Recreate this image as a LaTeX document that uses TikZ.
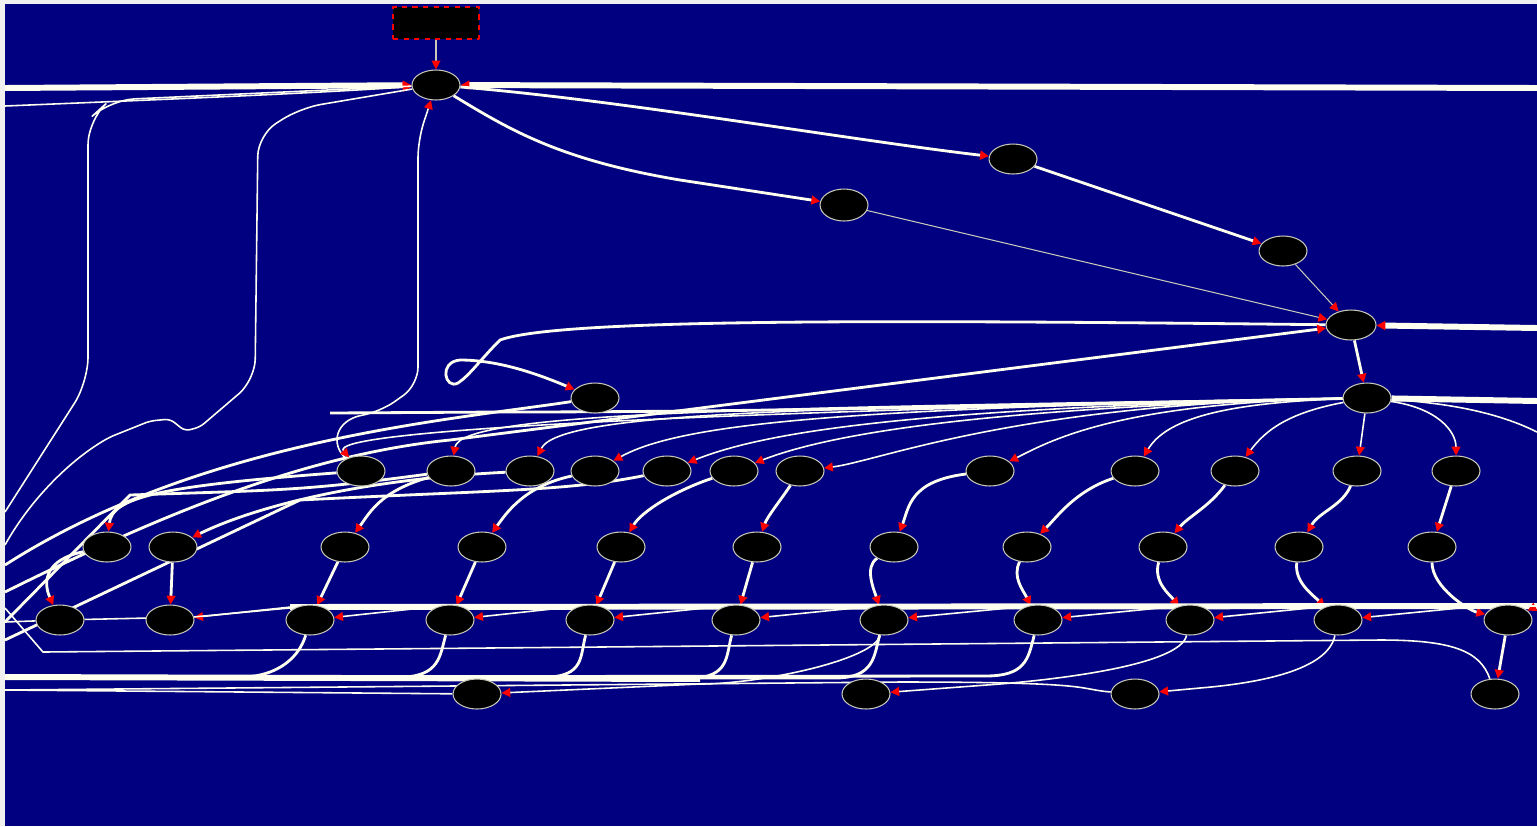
\documentclass[tikz,border=0pt]{standalone}
\usetikzlibrary{arrows.meta,shapes.geometric,backgrounds}

\definecolor{navy}{RGB}{0,0,128}
\definecolor{ivory}{RGB}{255,255,240}
\definecolor{frame}{RGB}{240,240,240}
\definecolor{rim}{RGB}{200,200,185}

\tikzset{
  >={Triangle[red,length=5pt,width=5pt]},
  blob/.style={ellipse, draw=rim, fill=black, line width=0.6pt,
    inner sep=0pt, minimum width=0.96cm, minimum height=0.6cm},
  srcbox/.style={rectangle, draw=red, dashed, fill=black, line width=0.6pt,
    minimum width=1.72cm, minimum height=0.64cm},
  hair/.style={draw=rim, line width=0.6pt},
  wire/.style={draw=ivory, line width=0.9pt},
  heavy/.style={draw=ivory, line width=1.6pt},
  bus/.style={draw=ivory, line width=3.4pt}
}

\begin{document}
\begin{tikzpicture}[x=0.02cm, y=-0.02cm, line join=round]
\useasboundingbox (0,0) rectangle (1537,826);
\begin{scope}[on background layer]
\fill[frame] (0,0) rectangle (1537,826);
\fill[navy] (5,4) rectangle (1537,826);
\end{scope}

% loose ends at the border
\coordinate (inW1) at (5,88);
\coordinate (inW2) at (5,106);
\coordinate (outW1) at (5,512);
\coordinate (outW2) at (5,545);
\coordinate (inW3) at (5,592);
\coordinate (outW4) at (5,565);
\coordinate (outW5) at (5,622);
\coordinate (outW6) at (5,608);
\coordinate (outW7) at (5,640);
\coordinate (outW8) at (5,677);
\coordinate (outW9) at (5,690);
\coordinate (inE1) at (1537,88);
\coordinate (inE2) at (1537,328);
\coordinate (outE3) at (1537,401);
\coordinate (outE4) at (1537,432);
\coordinate (inE5) at (1537,606);

% nodes
\node[srcbox] (src) at (436,23) {};
\node[blob] (r0) at (436,85) {};
\node[blob] (a1) at (1013,159) {};
\node[blob, minimum height=0.64cm] (b1) at (844,205) {};
\node[blob] (c1) at (1283,251) {};
\node[blob, minimum width=1cm] (d1) at (1351,325) {};
\node[blob] (e1) at (1367,398) {};
\node[blob] (f1) at (595,398) {};

\node[blob] (u1) at (361,471) {};
\node[blob] (u2) at (451,471) {};
\node[blob] (u3) at (530,471) {};
\node[blob] (u4) at (595,471) {};
\node[blob] (u5) at (667,471) {};
\node[blob] (u6) at (734,471) {};
\node[blob] (u7) at (800,471) {};
\node[blob] (u8) at (990,471) {};
\node[blob] (u9) at (1135,471) {};
\node[blob] (u10) at (1235,471) {};
\node[blob] (u11) at (1357,471) {};
\node[blob] (u12) at (1456,471) {};

\node[blob] (v1) at (107,547) {};
\node[blob] (v2) at (173,547) {};
\node[blob] (v3) at (345,547) {};
\node[blob] (v4) at (482,547) {};
\node[blob] (v5) at (621,547) {};
\node[blob] (v6) at (757,547) {};
\node[blob] (v7) at (894,547) {};
\node[blob] (v8) at (1027,547) {};
\node[blob] (v9) at (1163,547) {};
\node[blob] (v10) at (1299,547) {};
\node[blob] (v11) at (1432,547) {};

\node[blob] (w1) at (60,620) {};
\node[blob] (w2) at (170,620) {};
\node[blob] (w3) at (310,620) {};
\node[blob] (w4) at (450,620) {};
\node[blob] (w5) at (590,620) {};
\node[blob] (w6) at (736,620) {};
\node[blob] (w7) at (884,620) {};
\node[blob] (w8) at (1038,620) {};
\node[blob] (w9) at (1190,620) {};
\node[blob] (w10) at (1338,620) {};
\node[blob] (w11) at (1508,620) {};

\node[blob] (z1) at (477,694) {};
\node[blob] (z2) at (866,694) {};
\node[blob] (z3) at (1135,694) {};
\node[blob] (z4) at (1495,694) {};

% edges, drawn behind the nodes
\begin{scope}[on background layer]
% top part
\draw[hair,->] (src) -- (r0);
\draw[bus,->] (inW1) -- (r0);
\draw[wire,->] (inW2) .. controls (150,100) and (300,94) .. (r0);
\draw[bus,->] (inE1) -- (r0);
\draw[wire,rounded corners=14] (r0) -- (110,100) -- (88,120) -- (88,382) -- (outW1);
\draw[wire,rounded corners=12] (r0) -- (300,108) -- (258,135) -- (255,380)
  [rounded corners=3] -- (200,427) -- (185,431) -- (170,419) -- (150,421) -- (110,437)
  .. controls (70,460) and (30,500) .. (outW2);
\draw[wire,->,rounded corners=10] (u1) .. controls (330,445) and (335,420) .. (380,412)
  -- (418,385) -- (418,140) -- (r0);
\draw[heavy,->] (r0) .. controls (620,100) and (850,140) .. (a1);
\draw[heavy,->] (r0) .. controls (510,130) and (560,160) .. (680,180) -- (b1);
\draw[heavy,->] (a1) -- (c1);
\draw[hair,->] (b1) -- (d1);
\draw[hair,->] (c1) -- (d1);
\draw[heavy,->] (d1) -- (e1);
\draw[bus,->] (inE2) -- (d1);
\draw[heavy,->] (d1) .. controls (900,320) and (560,318) .. (500,340)
  .. controls (480,360) and (470,375) .. (458,383)
  .. controls (445,390) and (438,362) .. (460,360)
  .. controls (500,360) and (540,375) .. (f1);
\draw[heavy,->] (inW3) .. controls (150,520) and (300,455) .. (450,440) -- (d1);
\draw[heavy] (f1) .. controls (450,420) and (200,440) .. (outW4);
\draw[bus] (e1) -- (outE3);
\draw[wire] (e1) .. controls +(80,5) and +(-40,-20) .. (outE4);
\draw[heavy] (e1) .. controls +(-300,6) and +(300,0) .. (500,412) -- (330,413);

% fan out of e1
\draw[wire,->] (e1) .. controls +(-700,15) and +(-35,-40) .. (u1);
\draw[wire,->] (e1) .. controls +(-600,10) and +(10,-60) .. (u2);
\draw[wire,->] (e1) .. controls +(-550,10) and +(30,-60) .. (u3);
\draw[wire,->] (e1) .. controls +(-500,10) and +(90,-50) .. (u4);
\draw[wire,->] (e1) .. controls +(-450,10) and +(100,-40) .. (u5);
\draw[wire,->] (e1) .. controls +(-400,10) and +(90,-35) .. (u6);
\draw[wire,->] (e1) .. controls +(-350,5) and +(80,-10) .. (u7);
\draw[wire,->] (e1) .. controls +(-250,5) and +(60,-30) .. (u8);
\draw[wire,->] (e1) .. controls +(-150,5) and +(30,-50) .. (u9);
\draw[wire,->] (e1) .. controls +(-80,15) and +(30,-40) .. (u10);
\draw[wire,->] (e1) -- (u11);
\draw[wire,->] (e1) .. controls +(70,10) and +(0,-40) .. (u12);

% second row to third row
\draw[heavy,->] (u1) .. controls +(-200,15) and +(5,-50) .. (v1);
\draw[heavy,->] (u3) .. controls +(-200,10) and +(60,-30) .. (v2);
\draw[heavy,->] (u2) .. controls +(-70,20) and +(25,-35) .. (v3);
\draw[heavy,->] (u4) .. controls +(-70,15) and +(25,-35) .. (v4);
\draw[heavy,->] (u6) .. controls +(-60,20) and +(20,-35) .. (v5);
\draw[heavy,->] (u7) .. controls +(-20,30) and +(10,-30) .. (v6);
\draw[heavy,->] (u8) .. controls +(-80,10) and +(15,-40) .. (v7);
\draw[heavy,->] (u9) .. controls +(-60,20) and +(30,-30) .. (v8);
\draw[heavy,->] (u10) .. controls +(-25,35) and +(25,-30) .. (v9);
\draw[heavy,->] (u11) .. controls +(-15,35) and +(20,-35) .. (v10);
\draw[heavy,->] (u12) -- (v11);
\draw[heavy] (u5) .. controls +(-100,20) and +(200,-10) .. (300,500) -- (outW7);
\draw[heavy] (u2) .. controls +(-150,20) and +(150,-5) .. (130,495) -- (outW5);

% third row to fourth row
\draw[heavy,->] (v1) .. controls +(-60,12) and +(-18,-40) .. (w1);
\draw[heavy,->] (v2) -- (w2);
\draw[heavy,->] (v3) -- (w3);
\draw[heavy,->] (v4) -- (w4);
\draw[heavy,->] (v5) -- (w5);
\draw[heavy,->] (v6) -- (w6);
\draw[heavy,->] (v7) .. controls +(-30,20) and +(-10,-30) .. (w7);
\draw[heavy,->] (v8) .. controls +(-15,30) and +(-15,-30) .. (w8);
\draw[heavy,->] (v9) .. controls +(-10,35) and +(-20,-25) .. (w9);
\draw[heavy,->] (v10) .. controls +(-5,35) and +(-25,-25) .. (w10);
\draw[heavy,->] (v11) .. controls +(0,40) and +(-40,-10) .. (w11);

% long runs along the fourth row
\draw[bus] (inE5) -- (290,607);
\draw[wire,->] (inE5) -- (300,606) -- (w2);
\draw[wire,->] (inE5) -- (440,606) -- (w3);
\draw[wire,->] (inE5) -- (580,606) -- (w4);
\draw[wire,->] (inE5) -- (725,606) -- (w5);
\draw[wire,->] (inE5) -- (875,606) -- (w6);
\draw[wire,->] (inE5) -- (1030,606) -- (w7);
\draw[wire,->] (inE5) -- (1180,606) -- (w8);
\draw[wire,->] (inE5) -- (1330,606) -- (w9);
\draw[wire,->] (inE5) -- (1480,606) -- (w10);
\draw[wire,->] (inE5) -- (w11);
\draw[wire] (inE5) -- (300,607) -- (193,617) -- (w1);
\draw[wire] (w1) -- (outW5);
\draw[wire] (z4) .. controls (1480,650) and (1450,640) .. (1380,640) -- (43,652) -- (outW6);

% bottom row
\draw[heavy,->] (w11) -- (z4);
\draw[bus] (700,679) -- (outW8);
\draw[heavy] (w3) .. controls +(-10,35) and +(40,0) .. (240,677) -- (outW8);
\draw[heavy] (w4) .. controls +(-10,35) and +(40,0) .. (400,677) -- (outW8);
\draw[heavy] (w5) .. controls +(-10,35) and +(40,0) .. (545,677) -- (outW8);
\draw[heavy] (w6) .. controls +(-10,35) and +(40,0) .. (690,678) -- (outW8);
\draw[heavy] (w7) .. controls +(-10,35) and +(40,0) .. (835,678) -- (outW8);
\draw[heavy] (w8) .. controls +(-10,40) and +(40,0) .. (985,676) -- (outW8);
\draw[wire,->] (w9) .. controls +(-10,45) and +(60,-5) .. (1000,684) -- (z2);
\draw[wire,->] (w10) .. controls +(-10,50) and +(60,-5) .. (1200,688) -- (z3);
\draw[wire,->] (w7) .. controls +(-10,40) and +(60,0) .. (700,684) -- (z1);
\draw[wire] (z1) -- (outW9);
\draw[wire] (z3) .. controls +(-60,-5) and +(200,0) .. (900,682) -- (outW9);
\end{scope}
\end{tikzpicture}
\end{document}
